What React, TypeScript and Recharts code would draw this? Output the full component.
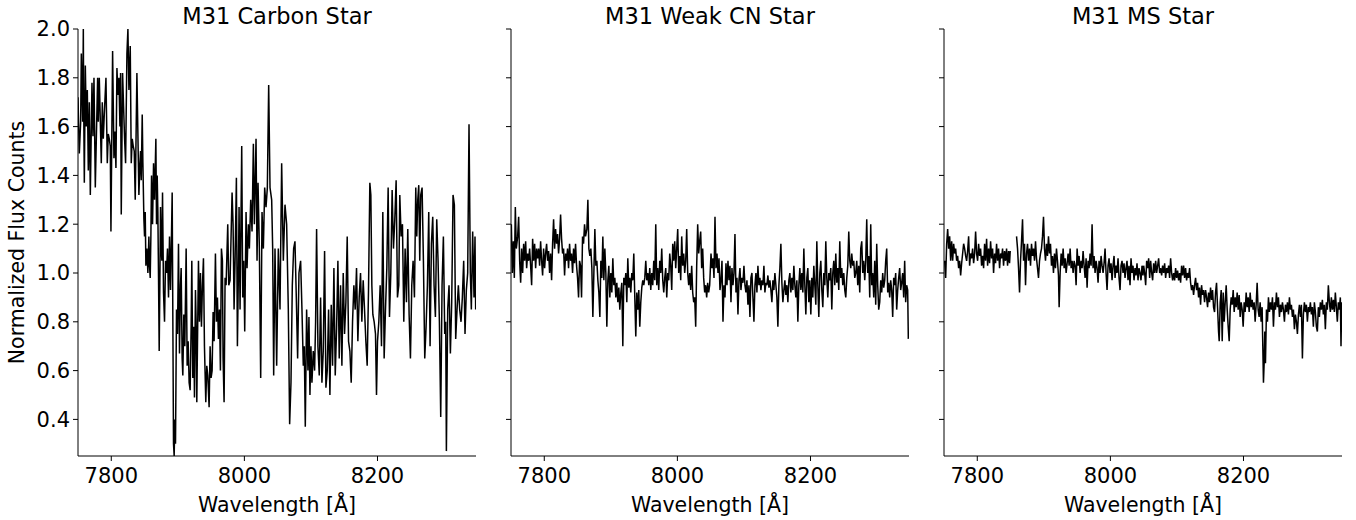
import React from "react";
import { LineChart, Line, XAxis, YAxis } from "recharts";

// wavelength [Å], normalized flux
const carbonStar: [number, number][] = [
  [7750, 1.72], [7751, 1.6], [7752, 1.49], [7754, 1.62], [7755, 1.9], [7757, 1.62], [7758, 2.0], [7758.5, 1.7],
  [7759.5, 1.37], [7761, 1.85], [7762.5, 1.6], [7764, 1.75], [7765.5, 1.42], [7767, 1.7], [7768.5, 1.32], [7771, 1.78],
  [7772.5, 1.56], [7774, 1.8], [7776, 1.35], [7779.5, 1.8], [7780.5, 1.62], [7782, 1.8], [7785, 1.45], [7786.5, 1.7],
  [7788, 1.55], [7789.5, 1.65], [7792, 1.8], [7794, 1.45], [7795.5, 1.57], [7797, 1.55], [7798.5, 1.52], [7799.5, 1.17],
  [7802, 1.91], [7804, 1.47], [7805.5, 1.58], [7807, 1.43], [7808.5, 1.84], [7810, 1.73], [7811.5, 1.8], [7813, 1.6],
  [7814, 1.82], [7815, 1.24], [7817, 1.82], [7818.5, 1.68], [7820, 1.55], [7821.5, 1.45], [7823.5, 1.9], [7825, 2.0],
  [7826.5, 1.75], [7828.5, 1.93], [7830, 1.45], [7831.5, 1.55], [7833, 1.52], [7834.5, 1.5], [7836, 1.3], [7838.5, 1.82],
  [7841.5, 1.32], [7843, 1.45], [7844, 1.5], [7845, 1.38], [7846.5, 1.65], [7847.5, 1.45], [7849, 1.22], [7850, 1.15],
  [7851, 1.25], [7852, 1.03], [7853.5, 1.1], [7855, 1.0], [7856.5, 1.15], [7857.5, 1.03], [7858.5, 0.98], [7859.5, 1.15],
  [7860.5, 1.4], [7862, 1.2], [7863.5, 1.45], [7865, 1.3], [7867, 1.55], [7868, 1.2], [7869, 1.4], [7870, 1.25],
  [7871, 0.98], [7872, 0.68], [7873, 0.96], [7874, 1.27], [7875, 1.1], [7876, 1.05], [7877, 1.33], [7878.5, 0.92],
  [7880, 0.8], [7881.5, 1.05], [7883, 1.0], [7884.5, 1.1], [7886, 0.9], [7887.5, 1.15], [7889, 0.93], [7890, 1.08],
  [7891.5, 1.33], [7893.5, 0.3], [7894.5, 0.25], [7895.5, 0.4], [7896.5, 0.3], [7898, 0.85], [7899.5, 0.75], [7901, 1.12],
  [7902.5, 0.67], [7904, 0.95], [7905, 1.02], [7906.5, 0.65], [7907.5, 0.58], [7909, 0.83], [7910.5, 0.7], [7912.5, 1.1],
  [7914, 0.62], [7915.5, 0.72], [7917, 0.55], [7918.5, 0.52], [7920, 0.78], [7921, 1.05], [7922.5, 0.57], [7924, 0.78],
  [7925, 0.49], [7926.5, 0.93], [7927.5, 0.8], [7928.5, 0.47], [7930, 0.82], [7931, 1.05], [7932.5, 0.8], [7934, 1.0],
  [7935.5, 0.78], [7937, 0.95], [7938.5, 1.06], [7940, 0.7], [7942, 0.47], [7943.5, 0.62], [7945, 0.58], [7947, 0.45],
  [7948.5, 0.7], [7950, 0.57], [7951.5, 0.6], [7953, 0.84], [7954.5, 0.72], [7956.5, 1.08], [7958, 0.8], [7959.5, 0.9],
  [7961, 0.73], [7962.5, 0.85], [7964, 0.6], [7965.5, 1.1], [7967, 1.05], [7968, 0.65], [7969.5, 0.47], [7971, 0.98],
  [7972.5, 0.95], [7975, 1.2], [7976.5, 0.95], [7978.5, 0.97], [7981.5, 1.33], [7983, 1.2], [7984.5, 0.85], [7986, 1.05],
  [7988, 1.39], [7989.5, 0.7], [7991, 1.0], [7992, 1.27], [7993.5, 0.85], [7996, 1.52], [7997.5, 0.9], [7999, 1.05],
  [8000.5, 0.76], [8002.5, 1.25], [8004, 1.02], [8006, 1.2], [8007.5, 1.1], [8009.5, 1.3], [8011.5, 1.17], [8013.5, 1.53],
  [8015, 1.2], [8017.5, 1.55], [8019, 1.05], [8020.5, 1.37], [8022.5, 1.1], [8024.5, 0.57], [8026.5, 1.25], [8028.5, 1.1],
  [8030.5, 1.35], [8032.5, 1.27], [8034.5, 1.35], [8036.5, 1.77], [8038.5, 1.35], [8041, 1.3], [8042.5, 1.1], [8044, 0.58],
  [8046, 1.1], [8048.5, 0.62], [8051, 1.1], [8053.5, 0.85], [8056, 1.45], [8058.5, 1.05], [8061, 1.28], [8063.5, 1.2],
  [8066, 0.85], [8068, 0.38], [8070, 0.55], [8072, 0.95], [8074, 1.1], [8076, 1.13], [8078, 0.9], [8080, 0.65],
  [8082, 1.0], [8084.5, 1.05], [8086.5, 0.85], [8088.5, 0.62], [8090, 0.7], [8091.5, 0.37], [8093.5, 0.85], [8095.5, 0.6],
  [8097, 0.82], [8098.5, 0.5], [8100, 0.7], [8101.5, 0.55], [8103.5, 0.68], [8105.5, 0.6], [8107, 0.8], [8108.5, 1.18],
  [8110.5, 0.7], [8112.5, 0.58], [8114.5, 0.9], [8116.5, 0.55], [8118.5, 0.68], [8120.5, 1.09], [8122.5, 0.53], [8124.5, 0.6],
  [8126.5, 0.85], [8128.5, 0.5], [8130.5, 0.87], [8132.5, 0.62], [8134.5, 1.02], [8136.5, 0.58], [8138.5, 0.77], [8140.5, 1.05],
  [8142.5, 0.65], [8144.5, 0.95], [8146.5, 0.62], [8148.5, 1.0], [8150.5, 0.75], [8152.5, 0.88], [8154.5, 1.15], [8156.5, 0.72],
  [8158.5, 0.68], [8160.5, 0.55], [8162.5, 0.8], [8164.5, 0.95], [8166.5, 0.85], [8168.5, 1.02], [8170.5, 0.72], [8172.5, 0.9],
  [8174.5, 1.0], [8176.5, 0.8], [8178.5, 0.97], [8180.5, 0.85], [8182.5, 0.72], [8184.5, 0.62], [8186.5, 0.93], [8188.5, 1.37],
  [8190, 1.32], [8191.5, 0.95], [8193, 0.83], [8195, 0.8], [8197, 0.75], [8198.5, 0.5], [8200, 0.72], [8202, 0.8],
  [8204, 0.95], [8206, 0.7], [8208, 1.25], [8210, 0.65], [8212, 0.85], [8214, 1.02], [8216, 1.35], [8218, 0.82],
  [8220, 1.0], [8222, 1.34], [8224, 1.1], [8226, 1.22], [8228, 1.38], [8230, 0.9], [8232, 0.95], [8233.5, 1.32],
  [8235.5, 1.15], [8237.5, 1.2], [8239.5, 0.8], [8241.5, 1.1], [8243.5, 0.88], [8245.5, 1.18], [8247.5, 0.83], [8249.5, 0.65],
  [8251.5, 0.95], [8253.5, 1.05], [8255.5, 0.9], [8257.5, 1.35], [8259, 1.15], [8260.5, 1.3], [8262, 1.36], [8263.5, 1.05],
  [8265, 1.32], [8267, 1.35], [8269, 1.05], [8271, 0.65], [8273, 0.78], [8275, 0.95], [8277, 1.25], [8279, 0.7],
  [8281, 1.12], [8283, 1.23], [8285, 0.95], [8287, 0.82], [8289, 1.22], [8291, 1.05], [8293, 0.8], [8295, 0.41],
  [8297, 0.95], [8299, 1.15], [8301, 0.75], [8302.5, 0.8], [8303.5, 0.27], [8305.5, 0.85], [8307.5, 0.95], [8309.5, 0.67],
  [8311.5, 0.88], [8313.5, 1.32], [8315.5, 1.28], [8317.5, 0.73], [8319.5, 0.85], [8321.5, 0.95], [8323.5, 0.85], [8325.5, 0.8],
  [8327.5, 0.9], [8329.5, 1.05], [8331.5, 0.75], [8333.5, 0.93], [8335.5, 1.0], [8337.5, 1.61], [8339.5, 1.0], [8341, 0.85],
  [8343, 1.17], [8345, 0.9], [8346.5, 1.15], [8347.5, 0.85],
];

const weakCnStar: [number, number][] = [
  [7750.5, 1.2], [7752, 1.0], [7753.5, 1.13], [7755, 0.98], [7756.5, 1.27], [7758, 1.1], [7760, 1.15], [7761.5, 1.23],
  [7763, 1.05], [7764.5, 0.96], [7766, 1.1], [7767.5, 1.0], [7769, 1.12], [7770.5, 1.05], [7772, 1.13], [7773.5, 1.02],
  [7775, 1.08], [7776.5, 1.05], [7778, 1.1], [7779.5, 1.03], [7781, 0.95], [7782.5, 1.14], [7784, 1.05], [7785.5, 1.12],
  [7787, 1.02], [7788.5, 1.1], [7790, 1.06], [7791.5, 1.1], [7793, 1.03], [7794.5, 1.13], [7796, 1.05], [7797.5, 0.99],
  [7799, 1.1], [7800.5, 1.02], [7802, 1.08], [7803.5, 1.12], [7805, 1.05], [7806.5, 1.09], [7808, 1.0], [7809.5, 1.08],
  [7811, 0.97], [7812.5, 1.12], [7814, 1.22], [7815.5, 1.1], [7817, 1.18], [7818.5, 1.12], [7820, 1.16], [7821.5, 1.08],
  [7823, 1.14], [7824.5, 1.24], [7826, 1.14], [7827.5, 1.08], [7829, 1.1], [7830.5, 0.99], [7832, 1.08], [7833.5, 1.05],
  [7835, 1.1], [7836.5, 1.02], [7838, 1.12], [7839.5, 1.05], [7841, 1.08], [7842.5, 1.0], [7844, 1.1], [7845.5, 1.04],
  [7847, 1.12], [7848.5, 1.03], [7850, 0.98], [7851.5, 0.9], [7853, 1.05], [7854.5, 1.03], [7856, 0.9], [7857.5, 1.15],
  [7859, 1.12], [7860.5, 1.2], [7862, 1.15], [7864, 1.18], [7865.5, 1.3], [7867, 1.1], [7868.5, 1.07], [7870, 1.1],
  [7871.5, 1.02], [7873, 0.82], [7874.5, 1.0], [7876, 1.18], [7877.5, 1.03], [7879, 1.05], [7880.5, 0.97], [7882, 0.92],
  [7883.5, 0.82], [7885, 1.05], [7886.5, 0.98], [7888, 1.15], [7889.5, 0.97], [7891, 1.1], [7892.5, 1.0], [7894, 0.78],
  [7895.5, 0.97], [7897, 1.03], [7898.5, 0.9], [7900, 1.0], [7901.5, 0.92], [7903, 1.06], [7904.5, 0.95], [7906, 0.98],
  [7907.5, 0.9], [7909, 0.96], [7910.5, 0.88], [7912, 0.94], [7913.5, 0.85], [7915, 0.92], [7916.5, 0.96], [7918, 0.7],
  [7919.5, 0.98], [7921, 0.95], [7922.5, 1.0], [7924, 0.88], [7925.5, 1.06], [7927, 0.94], [7928.5, 0.98], [7930, 0.92],
  [7931.5, 1.0], [7933, 0.97], [7934.5, 1.08], [7936, 0.9], [7937.5, 0.74], [7939, 0.92], [7940.5, 0.85], [7942, 0.93],
  [7943.5, 0.78], [7945, 0.88], [7946.5, 0.94], [7948, 0.97], [7949.5, 0.95], [7951, 0.98], [7952.5, 1.05], [7954, 0.97],
  [7955.5, 1.0], [7957, 0.95], [7958.5, 1.02], [7960, 0.93], [7961.5, 1.0], [7963, 0.95], [7964.5, 1.05], [7966, 0.97],
  [7967.5, 1.2], [7969, 0.95], [7970.5, 1.02], [7972, 0.93], [7973.5, 1.05], [7975, 1.0], [7976.5, 1.1], [7978, 0.97],
  [7979.5, 0.92], [7981, 0.98], [7982.5, 1.02], [7984, 0.9], [7985.5, 1.0], [7987, 0.97], [7988.5, 1.08], [7990, 1.03],
  [7991.5, 0.93], [7993, 1.12], [7994.5, 1.05], [7996, 1.13], [7997.5, 1.02], [7999, 1.1], [8000.5, 1.18], [8002, 1.0],
  [8003.5, 1.07], [8005, 0.97], [8006.5, 1.15], [8008, 1.03], [8009.5, 1.08], [8011, 1.0], [8012.5, 1.05], [8014, 1.18],
  [8015.5, 1.0], [8017, 0.95], [8018.5, 1.0], [8020, 0.93], [8021.5, 1.03], [8023, 0.92], [8024.5, 0.88], [8026, 0.9],
  [8027.5, 0.78], [8029, 1.03], [8030.5, 1.2], [8032, 1.08], [8033.5, 1.13], [8035, 1.17], [8036.5, 1.02], [8038, 1.1],
  [8039.5, 0.98], [8041, 0.92], [8042.5, 0.95], [8044, 0.9], [8045.5, 0.96], [8047, 0.92], [8048.5, 0.95], [8050.5, 1.08],
  [8052, 1.02], [8053.5, 1.06], [8055, 0.98], [8056.5, 1.23], [8058, 1.02], [8059.5, 1.08], [8061, 1.0], [8062.5, 1.06],
  [8064, 0.93], [8065.5, 0.97], [8067, 1.05], [8068.5, 0.8], [8070, 0.95], [8071.5, 0.9], [8073, 1.04], [8074.5, 0.95],
  [8076, 1.05], [8077.5, 0.97], [8079, 1.03], [8080.5, 0.88], [8082, 1.02], [8083.5, 0.95], [8085, 1.0], [8086.5, 1.16],
  [8088, 0.92], [8089.5, 0.98], [8091, 0.83], [8092.5, 0.97], [8094, 1.02], [8095.5, 0.93], [8097, 0.98], [8098.5, 0.96],
  [8100, 1.03], [8101.5, 0.95], [8103, 0.92], [8104.5, 0.97], [8106, 0.87], [8107.5, 0.95], [8109, 0.82], [8110.5, 0.98],
  [8112, 1.0], [8113.5, 0.9], [8115, 0.8], [8116.5, 0.95], [8118, 1.0], [8119.5, 0.92], [8121, 1.03], [8122.5, 0.95],
  [8124, 0.98], [8125.5, 0.93], [8127, 0.97], [8128.5, 0.95], [8130, 1.03], [8131.5, 0.92], [8133, 0.96], [8134.5, 0.95],
  [8136, 0.99], [8137.5, 0.94], [8139, 0.97], [8140.5, 0.93], [8142, 0.88], [8143.5, 0.97], [8145, 0.93], [8146.5, 1.0],
  [8148, 0.95], [8149.5, 0.9], [8151, 0.78], [8152.5, 0.95], [8154, 1.02], [8155.5, 1.12], [8157, 0.96], [8158.5, 0.88],
  [8160, 0.93], [8161.5, 0.97], [8163, 0.91], [8164.5, 0.95], [8166, 0.88], [8167.5, 0.97], [8169, 1.0], [8170.5, 0.92],
  [8172, 0.98], [8173.5, 0.93], [8175, 1.03], [8176.5, 0.95], [8178, 0.9], [8179.5, 0.97], [8181, 0.8], [8182.5, 0.95],
  [8184, 1.02], [8185.5, 0.93], [8187, 1.0], [8188.5, 0.92], [8190, 1.1], [8191.5, 0.95], [8193, 0.83], [8194.5, 0.98],
  [8196, 1.02], [8197.5, 0.88], [8199, 0.97], [8200.5, 0.83], [8202, 0.98], [8203.5, 0.9], [8205, 1.03], [8206.5, 0.95],
  [8208, 0.87], [8209.5, 1.13], [8211, 0.95], [8212.5, 0.82], [8214, 1.0], [8215.5, 1.05], [8217, 0.93], [8218.5, 0.86],
  [8220, 1.0], [8221.5, 0.95], [8223, 1.13], [8224.5, 0.98], [8226, 0.9], [8227.5, 1.0], [8229, 0.97], [8230.5, 1.02],
  [8232, 0.85], [8233.5, 1.0], [8235, 1.05], [8236.5, 0.95], [8238, 1.08], [8239.5, 0.96], [8241, 1.02], [8242.5, 0.93],
  [8244, 1.13], [8245.5, 0.98], [8247, 1.02], [8248.5, 0.95], [8250, 1.0], [8251.5, 0.93], [8253, 0.9], [8254.5, 0.98],
  [8256, 1.03], [8257.5, 1.17], [8259, 1.05], [8260.5, 1.02], [8262, 1.08], [8263.5, 1.03], [8265, 1.05], [8266.5, 0.98],
  [8268, 1.0], [8269.5, 1.05], [8271, 0.95], [8272.5, 1.03], [8274, 0.92], [8275.5, 1.1], [8277, 1.13], [8278.5, 1.0],
  [8280, 1.05], [8281.5, 0.97], [8283, 1.05], [8284.5, 1.22], [8286, 1.0], [8287.5, 1.07], [8289, 0.9], [8290.5, 1.2],
  [8292, 0.95], [8293.5, 1.0], [8295, 0.9], [8296.5, 1.05], [8298, 0.87], [8299.5, 1.12], [8301, 0.95], [8302.5, 0.85],
  [8304, 0.88], [8305.5, 0.97], [8307, 0.92], [8308.5, 1.0], [8310, 0.94], [8311.5, 0.97], [8313, 1.05], [8314.5, 1.1],
  [8316, 0.92], [8317.5, 0.96], [8319, 0.9], [8320.5, 0.97], [8322, 0.93], [8323.5, 0.82], [8325, 0.98], [8326.5, 0.95],
  [8328, 1.0], [8329.5, 0.85], [8331, 0.93], [8332.5, 0.98], [8334, 1.02], [8335.5, 0.93], [8337, 0.96], [8338.5, 1.0],
  [8340, 0.9], [8341.5, 1.05], [8343, 0.88], [8344.5, 0.95], [8346, 0.93], [8347, 0.73],
];

// the MS spectrum has a short gap near 7854 Å
const msStar: [number, number | null][] = [
  [7751, 1.05], [7752.5, 0.98], [7754, 1.12], [7755.5, 1.18], [7757, 1.1], [7758.5, 1.15], [7760, 1.05], [7761.5, 1.13],
  [7763, 1.05], [7764.5, 1.12], [7766, 1.08], [7767.5, 1.1], [7769, 1.05], [7770.5, 1.07], [7772, 1.02], [7773.5, 1.05],
  [7775, 0.99], [7776.5, 1.04], [7778, 1.08], [7779.5, 1.12], [7781, 1.1], [7782.5, 1.07], [7784, 1.05], [7785.5, 1.09],
  [7787, 1.15], [7788.5, 1.03], [7790, 1.08], [7791.5, 1.06], [7793, 1.1], [7794.5, 1.04], [7796, 1.08], [7797.5, 1.17],
  [7799, 1.08], [7800.5, 1.05], [7802, 1.12], [7803.5, 1.07], [7805, 1.1], [7806.5, 1.03], [7808, 1.07], [7809.5, 1.02],
  [7811, 1.12], [7812.5, 1.05], [7814, 1.14], [7815.5, 1.03], [7817, 1.1], [7818.5, 1.04], [7820, 1.13], [7821.5, 1.06],
  [7823, 1.1], [7824.5, 1.0], [7826, 1.08], [7827.5, 1.04], [7829, 1.12], [7830.5, 1.05], [7832, 1.1], [7833.5, 1.02],
  [7835, 1.08], [7836.5, 1.06], [7838, 1.1], [7839.5, 1.03], [7841, 1.09], [7842.5, 1.05], [7844, 1.1], [7845.5, 1.03],
  [7847, 1.09], [7848.5, 1.04], [7849.5, 1.09], [7854, null], [7859, 1.15], [7860.5, 1.1], [7862, 1.02], [7863.5, 0.92],
  [7865, 1.05], [7866.5, 1.13], [7868, 1.22], [7869.5, 1.05], [7871, 1.12], [7872.5, 0.95], [7874, 1.08], [7875.5, 1.12],
  [7877, 1.05], [7878.5, 1.1], [7880, 1.03], [7881.5, 1.12], [7883, 1.07], [7884.5, 1.1], [7886, 1.05], [7887.5, 1.13],
  [7889, 1.06], [7890.5, 1.02], [7892, 0.98], [7893.5, 1.05], [7895, 1.08], [7896.5, 1.1], [7898, 1.15], [7899.5, 1.23],
  [7901, 1.1], [7902.5, 1.05], [7904, 1.12], [7905.5, 1.07], [7907, 1.15], [7908.5, 1.08], [7910, 1.12], [7911.5, 1.03],
  [7913, 1.07], [7914.5, 1.0], [7916, 1.08], [7917.5, 1.02], [7919, 1.1], [7920.5, 1.05], [7922, 0.99], [7923, 0.86],
  [7924.5, 1.0], [7926, 1.08], [7927.5, 1.03], [7929, 1.1], [7930.5, 1.02], [7932, 1.06], [7933.5, 1.0], [7935, 1.04],
  [7936.5, 1.08], [7938, 1.03], [7939.5, 1.1], [7941, 1.02], [7942.5, 1.05], [7944, 1.0], [7945.5, 1.05], [7947, 1.03],
  [7948.5, 0.95], [7950, 1.1], [7951.5, 1.03], [7953, 1.07], [7954.5, 1.0], [7956, 1.05], [7957.5, 1.02], [7959, 1.09],
  [7960.5, 1.03], [7962, 0.98], [7963.5, 1.06], [7965, 0.94], [7966.5, 1.05], [7968, 1.02], [7969.5, 1.08], [7971, 1.03],
  [7972.5, 1.2], [7974, 1.02], [7975.5, 1.07], [7977, 1.0], [7978.5, 1.05], [7980, 1.02], [7981.5, 0.96], [7983, 1.05],
  [7984.5, 1.0], [7986, 1.07], [7987.5, 1.03], [7989, 1.0], [7990.5, 1.04], [7992, 1.1], [7993.5, 1.0], [7995, 0.93],
  [7996.5, 1.03], [7998, 1.06], [7999.5, 1.0], [8001, 1.04], [8002.5, 0.97], [8004, 1.03], [8005.5, 1.07], [8007, 0.98],
  [8008.5, 1.03], [8010, 1.0], [8011.5, 1.06], [8013, 0.98], [8014.5, 0.93], [8016, 1.03], [8017.5, 1.05], [8019, 1.0],
  [8020.5, 1.04], [8022, 0.98], [8023.5, 1.02], [8025, 1.05], [8026.5, 0.97], [8028, 1.03], [8029.5, 0.95], [8031, 1.06],
  [8032.5, 1.0], [8034, 1.03], [8035.5, 0.97], [8037, 1.02], [8038.5, 0.99], [8040, 1.04], [8041.5, 0.97], [8043, 1.02],
  [8044.5, 1.0], [8046, 0.97], [8047.5, 1.03], [8049, 0.99], [8050, 1.03], [8051.5, 1.0], [8053, 0.95], [8054.5, 1.05],
  [8056, 1.02], [8057.5, 1.06], [8059, 0.98], [8060.5, 1.05], [8062, 1.0], [8063.5, 0.97], [8065, 1.04], [8066.5, 1.0],
  [8068, 1.05], [8069.5, 1.0], [8071, 1.03], [8072.5, 1.06], [8074, 1.0], [8075.5, 1.02], [8077, 0.99], [8078.5, 1.03],
  [8080, 1.0], [8081.5, 1.04], [8083, 0.98], [8084.5, 1.02], [8086, 1.0], [8087.5, 1.03], [8089, 0.98], [8090.5, 1.06],
  [8092, 1.0], [8093.5, 0.97], [8095, 1.0], [8096.5, 0.97], [8098, 1.02], [8099.5, 0.98], [8101, 1.01], [8102.5, 0.97],
  [8104, 1.0], [8105.5, 0.96], [8107, 1.03], [8108.5, 0.99], [8110, 1.03], [8111.5, 0.98], [8113, 1.02], [8114.5, 0.97],
  [8116, 1.0], [8117.5, 0.98], [8119, 1.02], [8120.5, 0.96], [8122, 0.93], [8123.5, 0.95], [8125, 0.91], [8126.5, 0.95],
  [8128, 0.98], [8129.5, 0.93], [8131, 0.96], [8132.5, 0.9], [8134, 0.94], [8135.5, 0.87], [8137, 0.95], [8138.5, 0.91],
  [8140, 0.93], [8141.5, 0.88], [8143, 0.93], [8144.5, 0.9], [8146, 0.86], [8147.5, 0.92], [8149, 0.88], [8150.5, 0.94],
  [8152, 0.89], [8153.5, 0.93], [8155, 0.86], [8156.5, 0.84], [8158, 0.92], [8159.5, 0.96], [8161, 0.86], [8162.5, 0.76],
  [8163.5, 0.72], [8165, 0.88], [8166.5, 0.93], [8168, 0.72], [8169.5, 0.92], [8171, 0.8], [8172.5, 0.88], [8174, 0.95],
  [8175.5, 0.85], [8177, 0.78], [8178.5, 0.72], [8180, 0.85], [8181.5, 0.9], [8183, 0.87], [8184.5, 0.93], [8186, 0.84],
  [8187.5, 0.9], [8189, 0.86], [8190.5, 0.92], [8192, 0.85], [8193.5, 0.91], [8195, 0.82], [8196.5, 0.88], [8198, 0.85],
  [8199.5, 0.78], [8201, 0.88], [8202.5, 0.84], [8204, 0.92], [8205.5, 0.86], [8207, 0.9], [8208.5, 0.84], [8210, 0.92],
  [8211.5, 0.86], [8213, 0.89], [8214.5, 0.85], [8216, 0.88], [8217.5, 0.8], [8219, 0.87], [8220.5, 0.96], [8222, 0.85],
  [8223.5, 0.82], [8225, 0.88], [8226.5, 0.8], [8228, 0.86], [8229, 0.7], [8230, 0.55], [8231, 0.63], [8232, 0.76],
  [8233, 0.63], [8234.5, 0.85], [8236, 0.8], [8237.5, 0.9], [8239, 0.84], [8240.5, 0.88], [8242, 0.85], [8243.5, 0.9],
  [8245, 0.78], [8246.5, 0.88], [8248, 0.85], [8249.5, 0.92], [8251, 0.86], [8252.5, 0.9], [8254, 0.82], [8255.5, 0.87],
  [8257, 0.84], [8258.5, 0.88], [8260, 0.85], [8261.5, 0.8], [8263, 0.87], [8264.5, 0.84], [8266, 0.88], [8267.5, 0.83],
  [8269, 0.9], [8270.5, 0.85], [8272, 0.87], [8273.5, 0.82], [8275, 0.85], [8276.5, 0.77], [8278, 0.83], [8279.5, 0.8],
  [8281, 0.75], [8282.5, 0.83], [8284, 0.87], [8285.5, 0.82], [8287, 0.87], [8288.5, 0.65], [8290, 0.83], [8291.5, 0.88],
  [8293, 0.84], [8294.5, 0.87], [8296, 0.8], [8297.5, 0.86], [8299, 0.84], [8300.5, 0.88], [8302, 0.83], [8303.5, 0.86],
  [8305, 0.78], [8306.5, 0.88], [8308, 0.84], [8309.5, 0.78], [8311, 0.76], [8312.5, 0.86], [8314, 0.82], [8315.5, 0.88],
  [8317, 0.85], [8318.5, 0.89], [8320, 0.83], [8321.5, 0.87], [8323, 0.77], [8324.5, 0.88], [8326, 0.85], [8327.5, 0.95],
  [8329, 0.88], [8330.5, 0.84], [8332, 0.9], [8333.5, 0.85], [8335, 0.89], [8336.5, 0.84], [8338, 0.92], [8339.5, 0.86],
  [8341, 0.8], [8342.5, 0.88], [8344, 0.85], [8345.5, 0.9], [8346.5, 0.7], [8347.5, 0.88],
];

const panelTitles = ["M31 Carbon Star", "M31 Weak CN Star", "M31 MS Star"];
const xTicks = [7800, 8000, 8200];
const yTicks = [0.4, 0.6, 0.8, 1.0, 1.2, 1.4, 1.6, 1.8, 2.0];
const xDomain = [7750, 8348];
const yDomain = [0.25, 2.0];

const FONT = "DejaVu Sans";
const PLOT_W = 398;
const Y_AXIS_W = 78;
const TICK_FS = 21;
const LABEL_FS = 20.5;
const TITLE_FS = 22.5;

interface PanelProps {
  title: string;
  points: [number, number | null][];
  plotLeft: number;
  showYLabels: boolean;
}

function SpectrumPanel({ title, points, plotLeft, showYLabels }: PanelProps) {
  const data = points.map(([w, f]) => ({ w, f }));

  return (
    <>
      <div
        style={{
          position: "absolute",
          left: plotLeft,
          top: 5,
          width: PLOT_W,
          textAlign: "center",
          fontFamily: FONT,
          fontSize: TITLE_FS,
          lineHeight: `${TITLE_FS}px`,
          color: "#000",
          whiteSpace: "nowrap",
        }}
      >
        {title}
      </div>
      <div style={{ position: "absolute", left: plotLeft - Y_AXIS_W, top: 0 }}>
        <LineChart
          width={Y_AXIS_W + PLOT_W + 4}
          height={520}
          data={data}
          margin={{ top: 29, right: 4, bottom: 0, left: 0 }}
          style={{ fontFamily: FONT }}
        >
          <XAxis
            dataKey="w"
            type="number"
            domain={xDomain}
            ticks={xTicks}
            allowDataOverflow
            height={64}
            stroke="#000"
            fontSize={TICK_FS}
            tickSize={5}
            tickMargin={7}
            tick={{ fill: "#000", fontSize: TICK_FS }}
            label={{
              value: "Wavelength [Å]",
              position: "insideBottom",
              offset: 8,
              fill: "#000",
              fontSize: LABEL_FS,
            }}
          />
          <XAxis
            xAxisId="top"
            orientation="top"
            dataKey="w"
            type="number"
            domain={xDomain}
            allowDataOverflow
            height={0}
            stroke="#000"
            tick={false}
            tickLine={false}
          />
          <YAxis
            type="number"
            domain={yDomain}
            ticks={yTicks}
            allowDataOverflow
            width={Y_AXIS_W}
            stroke="#000"
            fontSize={TICK_FS}
            tickSize={5}
            tickMargin={3}
            tick={{ fill: "#000", fontSize: TICK_FS }}
            tickFormatter={(v: number) => (showYLabels ? v.toFixed(1) : "")}
            label={
              showYLabels
                ? {
                    value: "Normalized Flux Counts",
                    angle: -90,
                    position: "insideLeft",
                    offset: 17,
                    fill: "#000",
                    fontSize: LABEL_FS,
                    style: { textAnchor: "middle" },
                  }
                : undefined
            }
          />
          <YAxis
            yAxisId="right"
            orientation="right"
            type="number"
            domain={yDomain}
            allowDataOverflow
            width={0}
            stroke="#000"
            tick={false}
            tickLine={false}
          />
          <Line
            dataKey="f"
            type="linear"
            stroke="#000"
            strokeWidth={1.5}
            dot={false}
            activeDot={false}
            isAnimationActive={false}
          />
        </LineChart>
      </div>
    </>
  );
}

export default function App() {
  return (
    <div
      style={{
        position: "absolute",
        left: 0,
        top: 0,
        width: 1356,
        height: 520,
        background: "#fff",
        overflow: "hidden",
      }}
    >
      <SpectrumPanel title={panelTitles[0]} points={carbonStar} plotLeft={78} showYLabels />
      <SpectrumPanel title={panelTitles[1]} points={weakCnStar} plotLeft={511} showYLabels={false} />
      <SpectrumPanel title={panelTitles[2]} points={msStar} plotLeft={944} showYLabels={false} />
    </div>
  );
}
